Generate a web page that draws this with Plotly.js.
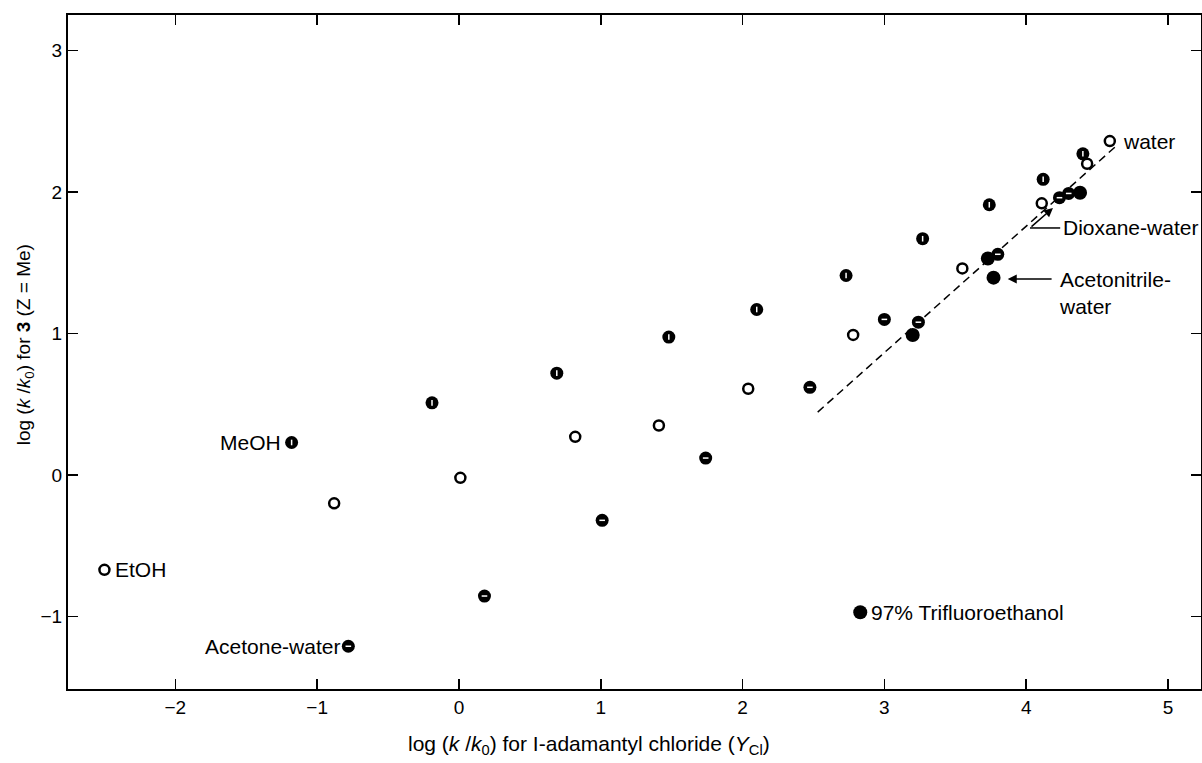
<!DOCTYPE html>
<html>
<head>
<meta charset="utf-8">
<script src="https://cdn.plot.ly/plotly-3.0.1.min.js"></script>
<style>
  html, body { margin: 0; padding: 0; background: #fff; }
  #chart { width: 1202px; height: 763px; }
</style>
</head>
<body>
<div id="chart"></div>
<script>
// Ethanol-water (open circles)
const etohX = [-2.50, -0.88, 0.01, 0.82, 1.41, 2.04, 2.78, 3.55, 4.11, 4.43, 4.59];
const etohY = [-0.67, -0.20, -0.02, 0.27, 0.35, 0.61, 0.99, 1.46, 1.92, 2.20, 2.36];
// Methanol-water (half-filled, vertical slit)
const meohX = [-1.18, -0.19, 0.69, 1.48, 2.10, 2.73, 3.27, 3.74, 4.12, 4.40];
const meohY = [0.23, 0.51, 0.72, 0.975, 1.17, 1.41, 1.67, 1.91, 2.09, 2.27];
// Acetone-water (half-filled, horizontal slit)
const acetoneX = [-0.78, 0.18, 1.01, 1.74, 2.475, 3.00, 3.24];
const acetoneY = [-1.21, -0.855, -0.32, 0.12, 0.62, 1.10, 1.08];
// Dioxane-water
const dioxaneX = [3.80, 4.235, 4.30];
const dioxaneY = [1.56, 1.96, 1.99];
// Filled circles (TFE, acetonitrile-water, others)
const filledX = [2.83, 3.20, 3.73, 3.77, 4.38];
const filledY = [-0.97, 0.99, 1.53, 1.395, 1.995];
// Dashed correlation line
const fitX = [2.53, 4.64];
const fitY = [0.445, 2.33];

const xTicks = [-2, -1, 0, 1, 2, 3, 4, 5];
const yTicks = [-1, 0, 1, 2, 3];
const xTickText = ['\u22122', '\u22121', '0', '1', '2', '3', '4', '5'];
const yTickText = ['\u22121', '0', '1', '2', '3'];

const FONT = 'Arial, "Liberation Sans", Helvetica, sans-serif';

const traces = [
  { x: fitX, y: fitY, mode: 'lines', line: { color: '#000', width: 1.5, dash: '8px,5px' }, hoverinfo: 'skip' },
  { x: etohX, y: etohY, mode: 'markers', name: 'EtOH-water',
    marker: { symbol: 'circle-open', size: 10, color: '#000', line: { color: '#000', width: 2.5 } } },
  { x: meohX, y: meohY, mode: 'markers', name: 'MeOH-water',
    marker: { symbol: 'circle', size: 13, color: '#000', line: { width: 0 } } },
  { x: meohX, y: meohY, mode: 'markers', hoverinfo: 'skip',
    marker: { symbol: 'line-ns-open', size: 4, color: '#fff', line: { color: '#fff', width: 1.5 } } },
  { x: acetoneX, y: acetoneY, mode: 'markers', name: 'Acetone-water',
    marker: { symbol: 'circle', size: 13, color: '#000', line: { width: 0 } } },
  { x: acetoneX, y: acetoneY, mode: 'markers', hoverinfo: 'skip',
    marker: { symbol: 'line-ew-open', size: 4, color: '#fff', line: { color: '#fff', width: 1.5 } } },
  { x: dioxaneX, y: dioxaneY, mode: 'markers', name: 'Dioxane-water',
    marker: { symbol: 'circle', size: 13, color: '#000', line: { width: 0 } } },
  { x: dioxaneX, y: dioxaneY, mode: 'markers', hoverinfo: 'skip',
    marker: { symbol: 'line-ew-open', size: 4, color: '#fff', line: { color: '#fff', width: 1.5 } } },
  { x: filledX, y: filledY, mode: 'markers', name: 'other',
    marker: { symbol: 'circle', size: 14, color: '#000', line: { width: 0 } } }
];

const lbl = (text, x, y, xanchor, xshift) => ({
  x: x, y: y, xref: 'x', yref: 'y', text: text, showarrow: false,
  xanchor: xanchor, yanchor: 'middle', xshift: xshift, align: 'left',
  font: { family: FONT, size: 21, color: '#000' }
});

const annotations = [
  lbl('EtOH', etohX[0], etohY[0], 'left', 9),
  lbl('MeOH', meohX[0], meohY[0], 'right', -9),
  lbl('Acetone-water', acetoneX[0], acetoneY[0], 'right', -6),
  lbl('97% Trifluoroethanol', filledX[0], filledY[0], 'left', 9),
  lbl('water', etohX[etohX.length - 1], etohY[etohY.length - 1], 'left', 11),
  lbl('Dioxane-water', 4.245, 1.746, 'left', 0),
  lbl('Acetonitrile-<br>water', 4.22, 1.29, 'left', 0),
  // Dioxane arrow
  { x: 4.189, y: 1.887, ax: 4.027, ay: 1.746, xref: 'x', yref: 'y', axref: 'x', ayref: 'y',
    text: '', showarrow: true, arrowhead: 2, arrowsize: 1.2, arrowwidth: 1.5, arrowcolor: '#000' },
  // Acetonitrile arrow
  { x: 3.87, y: 1.385, ax: 4.19, ay: 1.385, xref: 'x', yref: 'y', axref: 'x', ayref: 'y',
    text: '', showarrow: true, arrowhead: 2, arrowsize: 1.2, arrowwidth: 1.5, arrowcolor: '#000' },
  // axis titles
  { xref: 'paper', yref: 'paper', x: 0.46, y: 0, yshift: -56, xanchor: 'center', yanchor: 'middle',
    showarrow: false, text: 'log (<i>k</i> /<i>k</i><sub>0</sub>) for I-adamantyl chloride (<i>Y</i><sub>Cl</sub>)',
    font: { family: FONT, size: 21, color: '#000' } },
  { xref: 'paper', yref: 'paper', x: 0, y: 0.51, xshift: -43, xanchor: 'center', yanchor: 'middle',
    textangle: -90, showarrow: false, text: 'log (<i>k</i> /<i>k</i><sub>0</sub>) for <b>3</b> (Z = Me)',
    font: { family: FONT, size: 19, color: '#000' } }
];

const shapes = [
  { type: 'line', xref: 'x', yref: 'y', x0: 4.027, y0: 1.746, x1: 4.24, y1: 1.746,
    line: { color: '#000', width: 1.5 } }
];

const axisCommon = {
  showgrid: false, zeroline: false, showline: true, linecolor: '#000', linewidth: 2,
  mirror: 'ticks', ticks: 'inside', ticklen: 10, tickwidth: 1.5, tickcolor: '#000',
  tickfont: { family: FONT, size: 19, color: '#000' }, tickmode: 'array'
};

const layout = {
  width: 1202, height: 763,
  margin: { l: 68, r: 1, t: 15, b: 74 },
  paper_bgcolor: '#fff', plot_bgcolor: '#fff',
  showlegend: false,
  xaxis: Object.assign({}, axisCommon, { range: [-2.757, 5.233], tickvals: xTicks, ticktext: xTickText }),
  yaxis: Object.assign({}, axisCommon, { range: [-1.512, 3.251], tickvals: yTicks, ticktext: yTickText }),
  annotations: annotations,
  shapes: shapes
};

Plotly.newPlot('chart', traces, layout, { displayModeBar: false, staticPlot: true });
</script>
</body>
</html>
